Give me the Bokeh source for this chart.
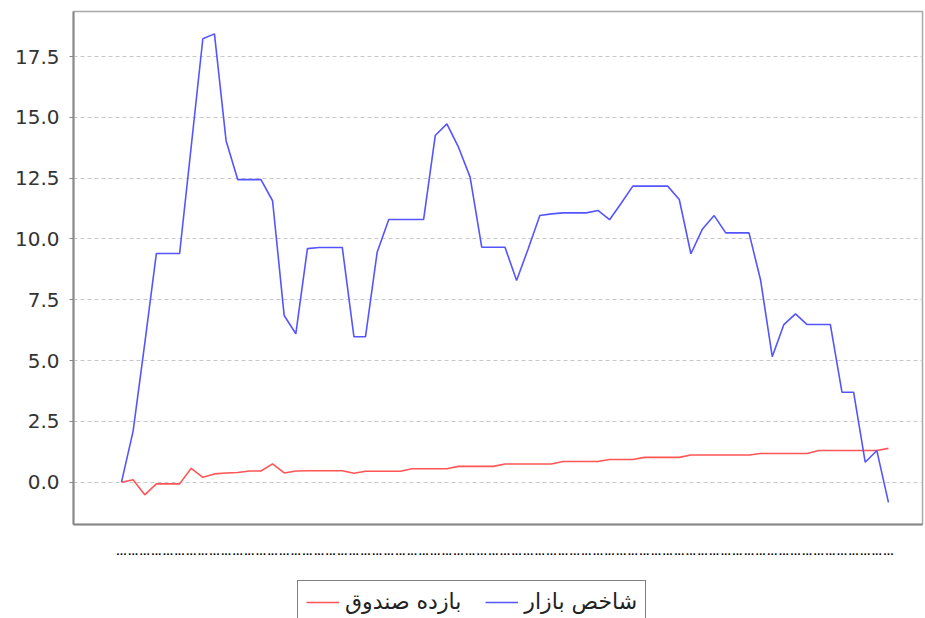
from bokeh.plotting import figure
from bokeh.layouts import column
from bokeh.models import (ColumnDataSource, FixedTicker, NumeralTickFormatter, Range1d,
                          Legend, LegendItem)
from bokeh.embed import file_html
from bokeh.resources import INLINE

# ---- data ----
market_label = "شاخص بازار"
fund_label = "بازده صندوق"

market_index = [0.0, 2.1, 5.7, 9.4, 9.4, 9.4, 13.8, 18.23, 18.43, 14.04,
                12.44, 12.44, 12.44, 11.57, 6.85, 6.1, 9.6, 9.65, 9.65, 9.65,
                5.98, 5.98, 9.45, 10.8, 10.8, 10.8, 10.8, 14.25, 14.73, 13.77,
                12.54, 9.66, 9.66, 9.66, 8.29, 9.6, 10.96, 11.03, 11.07, 11.07,
                11.07, 11.17, 10.79, 11.47, 12.17, 12.17, 12.17, 12.17, 11.62, 9.39,
                10.41, 10.96, 10.25, 10.25, 10.25, 8.3, 5.16, 6.48, 6.92, 6.48,
                6.48, 6.48, 3.7, 3.7, 0.82, 1.3, -0.83]

fund_return = [0.0, 0.1, -0.52, -0.07, -0.07, -0.07, 0.57, 0.2, 0.34, 0.38,
               0.4, 0.46, 0.46, 0.75, 0.38, 0.46, 0.47, 0.47, 0.47, 0.47,
               0.37, 0.45, 0.45, 0.45, 0.45, 0.55, 0.55, 0.55, 0.55, 0.65,
               0.65, 0.65, 0.65, 0.75, 0.75, 0.75, 0.75, 0.75, 0.85, 0.85,
               0.85, 0.85, 0.93, 0.93, 0.93, 1.02, 1.02, 1.02, 1.02, 1.12,
               1.12, 1.12, 1.12, 1.12, 1.12, 1.18, 1.18, 1.18, 1.18, 1.18,
               1.3, 1.3, 1.3, 1.3, 1.3, 1.3, 1.39]

categories = list(range(len(market_index)))
category_labels = ["..." for _ in categories]
y_ticks = [0.0, 2.5, 5.0, 7.5, 10.0, 12.5, 15.0, 17.5]

FUND_COLOR = "#FF5555"
MARKET_COLOR = "#5555FF"

source = ColumnDataSource(dict(x=categories, market=market_index, fund=fund_return))

p = figure(width=925, height=580, output_backend="svg", toolbar_location=None,
           x_range=Range1d(-4.13, 68.93), y_range=Range1d(-1.74, 19.35),
           min_border_left=73, min_border_right=3, min_border_top=11, min_border_bottom=56)

p.background_fill_color = "white"
p.border_fill_color = "white"
p.outline_line_color = "#a8a8a8"
p.outline_line_width = 1.5

p.line("x", "fund", source=source, line_color=FUND_COLOR, line_width=1.6)
p.line("x", "market", source=source, line_color=MARKET_COLOR, line_width=1.6)

# y axis
p.yaxis.ticker = FixedTicker(ticks=y_ticks)
p.yaxis.formatter = NumeralTickFormatter(format="0.0")
p.yaxis.major_label_text_font = "DejaVu Sans"
p.yaxis.major_label_text_font_size = "20px"
p.yaxis.major_label_text_color = "#333333"
p.yaxis.major_label_standoff = 10
p.yaxis.major_tick_out = 4
p.yaxis.major_tick_in = 0
p.yaxis.minor_tick_line_color = None
p.yaxis.major_tick_line_color = "#888888"
p.yaxis.axis_line_color = "#888888"
p.yaxis.axis_line_width = 2

# x axis (truncated category labels)
p.xaxis.ticker = FixedTicker(ticks=categories)
p.xaxis.major_label_overrides = {c: lab for c, lab in zip(categories, category_labels)}
p.xaxis.major_label_text_font = "DejaVu Sans"
p.xaxis.major_label_text_font_size = "9px"
p.xaxis.major_label_text_font_style = "bold"
p.xaxis.major_label_text_color = "#000000"
p.xaxis.major_label_standoff = 17
p.xaxis.major_tick_line_color = None
p.xaxis.minor_tick_line_color = None
p.xaxis.axis_line_color = "#888888"
p.xaxis.axis_line_width = 2

# grid
p.xgrid.visible = False
p.ygrid.ticker = FixedTicker(ticks=y_ticks)
p.ygrid.grid_line_color = "#c8c8c8"
p.ygrid.grid_line_dash = "4 3"
p.ygrid.grid_line_width = 1

# ---- legend strip below the chart ----
lg = figure(width=925, height=38, output_backend="svg", toolbar_location=None,
            x_range=Range1d(0, 1), y_range=Range1d(0, 1),
            x_axis_type=None, y_axis_type=None, min_border=0)
lg.outline_line_color = None
lg.grid.visible = False
lg.background_fill_color = "white"
lg.border_fill_color = "white"
k_fund = lg.line([-5, -4], [-5, -4], line_color=FUND_COLOR, line_width=1.6)
k_market = lg.line([-5, -4], [-5, -4], line_color=MARKET_COLOR, line_width=1.6)

legend = Legend(items=[LegendItem(label=fund_label, renderers=[k_fund]),
                       LegendItem(label=market_label, renderers=[k_market])],
                orientation="horizontal", location=(224, -5), margin=0,
                border_line_color="black", border_line_width=1.5,
                padding=8, spacing=24, glyph_width=33, glyph_height=22,
                label_height=22, label_standoff=6,
                label_text_font="DejaVu Sans", label_text_font_size="22px",
                label_text_color="#222222", background_fill_alpha=1.0)
lg.add_layout(legend, "center")

layout = column(p, lg, spacing=0)
open("out.html", "w").write(file_html(layout, INLINE))
